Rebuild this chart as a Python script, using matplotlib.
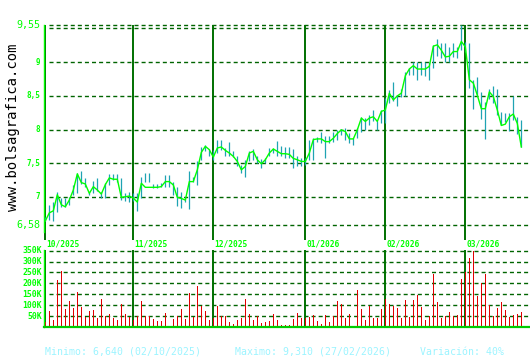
import matplotlib
matplotlib.use("Agg")
import matplotlib.pyplot as plt
import matplotlib.transforms as mtransforms

# ---------------- data ----------------
close = [6.64, 6.76, 6.79, 7.03, 6.88, 6.85, 6.95, 7.10, 7.34, 7.21,
         7.19, 7.05, 7.15, 7.10, 7.04, 7.18, 7.28, 7.26, 7.26, 6.99,
         7.00, 7.01, 6.98, 6.92, 7.20, 7.14, 7.14, 7.14, 7.14, 7.15,
         7.225, 7.225, 7.175, 6.99, 6.975, 6.95, 7.225, 7.225, 7.40, 7.66,
         7.75, 7.70, 7.59, 7.725, 7.74, 7.69, 7.65, 7.60, 7.525, 7.40,
         7.45, 7.65, 7.675, 7.55, 7.49, 7.55, 7.65, 7.71, 7.675, 7.64,
         7.64, 7.63, 7.57, 7.55, 7.525, 7.525, 7.65, 7.85, 7.86, 7.86,
         7.82, 7.82, 7.87, 7.94, 7.995, 7.97, 7.86, 7.86, 7.995, 8.17,
         8.12, 8.17, 8.19, 8.12, 8.27, 8.29, 8.54, 8.44, 8.50, 8.54,
         8.80, 8.90, 8.95, 8.90, 8.90, 8.90, 8.94, 9.24, 9.26, 9.18,
         9.08, 9.09, 9.16, 9.16, 9.31, 9.23, 8.74, 8.69, 8.51, 8.31,
         8.31, 8.56, 8.49, 8.29, 8.06, 8.08, 8.19, 8.23, 8.09, 7.74]

high = [6.70, 6.875, 6.925, 7.075, 6.975, 6.975, 7.0, 7.175, 7.35, 7.385,
        7.275, 7.075, 7.24, 7.275, 7.075, 7.21, 7.335, 7.34, 7.335, 7.285,
        7.05, 7.075, 7.05, 7.06, 7.29, 7.35, 7.36, 7.185, 7.185, 7.20,
        7.32, 7.325, 7.225, 7.15, 7.075, 7.0, 7.385, 7.30, 7.525, 7.735,
        7.775, 7.71, 7.70, 7.84, 7.85, 7.725, 7.81, 7.675, 7.61, 7.475,
        7.55, 7.675, 7.71, 7.60, 7.56, 7.575, 7.725, 7.725, 7.835, 7.75,
        7.74, 7.74, 7.71, 7.60, 7.575, 7.58, 7.85, 7.87, 7.89, 7.97,
        7.90, 7.90, 7.97, 7.995, 8.005, 8.02, 7.945, 7.87, 8.02, 8.19,
        8.17, 8.22, 8.29, 8.12, 8.29, 8.47, 8.59, 8.70, 8.51, 8.61,
        8.86, 8.91, 9.01, 9.01, 9.01, 9.01, 9.01, 9.25, 9.34, 9.28,
        9.29, 9.23, 9.28, 9.23, 9.55, 9.30, 9.28, 8.74, 8.78, 8.56,
        8.41, 8.60, 8.64, 8.61, 8.26, 8.24, 8.24, 8.50, 8.18, 8.14]

low = [6.64, 6.65, 6.64, 6.775, 6.85, 6.84, 6.875, 7.025, 7.05, 7.19,
       7.15, 7.025, 7.05, 7.09, 6.975, 6.975, 7.175, 7.25, 7.225, 6.95,
       6.94, 6.925, 6.93, 6.785, 6.975, 7.225, 7.225, 7.125, 7.125, 7.15,
       7.15, 7.15, 7.025, 6.86, 6.825, 6.925, 6.81, 7.225, 7.175, 7.55,
       7.675, 7.60, 7.55, 7.65, 7.70, 7.60, 7.60, 7.59, 7.45, 7.36,
       7.30, 7.525, 7.55, 7.50, 7.425, 7.50, 7.60, 7.65, 7.60, 7.60,
       7.57, 7.57, 7.43, 7.46, 7.45, 7.47, 7.55, 7.55, 7.82, 7.80,
       7.57, 7.80, 7.82, 7.85, 7.92, 7.85, 7.80, 7.77, 7.87, 7.97,
       7.995, 8.07, 8.12, 7.995, 8.09, 8.09, 8.39, 8.42, 8.35, 8.49,
       8.50, 8.81, 8.81, 8.74, 8.81, 8.79, 8.74, 8.91, 9.09, 9.06,
       9.01, 9.01, 9.08, 9.06, 9.18, 9.15, 8.62, 8.31, 8.51, 8.16,
       7.86, 8.46, 8.39, 8.21, 8.06, 8.11, 7.98, 8.14, 7.94, 7.74]

volume_k = [23, 74, 32, 217, 258, 83, 120, 88, 161, 92,
            46, 74, 78, 41, 129, 51, 60, 41, 32, 106,
            60, 46, 30, 51, 120, 51, 51, 37, 28, 28,
            64, 5, 37, 51, 83, 37, 157, 46, 189, 97,
            74, 32, 40, 97, 51, 51, 23, 14, 32, 41,
            129, 60, 32, 51, 18, 23, 28, 60, 32, 9,
            9, 9, 37, 64, 41, 40, 46, 55, 28, 14,
            55, 23, 51, 120, 106, 41, 60, 5, 170, 83,
            32, 97, 41, 41, 83, 128, 106, 97, 88, 41,
            124, 46, 124, 147, 92, 32, 51, 244, 115, 41,
            51, 69, 51, 55, 221, 250, 318, 350, 143, 203,
            244, 101, 51, 88, 115, 78, 46, 55, 60, 69]

month_start = [0, 22, 42, 65, 85, 105]
month_labels = ["10/2025", "11/2025", "12/2025", "01/2026", "02/2026", "03/2026"]

price_ticks = [9.555, 9.505, 9.0, 8.5, 8.0, 7.5, 7.0, 6.58]
price_labels = {9.555: "9,55", 9.0: "9", 8.5: "8,5", 8.0: "8", 7.5: "7,5", 7.0: "7", 6.58: "6,58"}
vol_ticks = [50, 100, 150, 200, 250, 300, 350]
vol_labels = ["50K", "100K", "150K", "200K", "250K", "300K", "350K"]

footer = ["Minimo: 6,640 (02/10/2025)", "Maximo: 9,310 (27/02/2026)", "Variación: 40%"]
watermark = "www.bolsagrafica.com"

# ---------------- style ----------------
W, H = 530, 360
LIME = "#00ff00"
DARK = "#007000"
GRID = "#006400"
TEAL = "#1fa3b3"
RED = "#e00000"
MONO = "DejaVu Sans Mono"

fig = plt.figure(figsize=(W / 100, H / 100), dpi=100)
fig.patch.set_facecolor("white")

n = len(close)
idx = list(range(n))
xl = (-0.33, 121.17)

# price axes
ax = fig.add_axes([44 / W, 1 - 240 / H, 486 / W, 215 / H])
ax.set_xlim(*xl)
ax.set_ylim(6.356, 9.555)
ax.set_facecolor("white")
for s in ax.spines.values():
    s.set_visible(False)
ax.set_xticks([])
ax.set_yticks([])

for t in price_ticks:
    ax.plot([1.0, xl[1]], [t, t], color=GRID, lw=1.0, ls=(0, (2.9, 2.2)), zorder=1,
            clip_on=False)
for m in month_start:
    ax.axvline(m, color=DARK, lw=1.4, zorder=2)
ax.plot([-0.25, -0.25], [6.47, 9.555], color=LIME, lw=1.0, zorder=3, clip_on=False)

ax.vlines(idx, low, high, color=TEAL, lw=0.9, zorder=4)
ax.plot(idx, close, color=LIME, lw=1.0, zorder=5)

trans_lbl = mtransforms.blended_transform_factory(ax.transAxes, ax.transData)
for t, lab in price_labels.items():
    big = lab in ("9,55", "6,58")
    ax.text(-4.0 / 486, t, lab, transform=trans_lbl, ha="right", va="center",
            color=LIME, fontsize=7.2 if big else 5.5, family=MONO,
            fontweight="normal" if big else "bold")

trans_m = mtransforms.blended_transform_factory(ax.transData, ax.transAxes)
for m, lab in zip(month_start, month_labels):
    ax.text(m + 0.2, -4.0 / 215, lab, transform=trans_m, ha="left", va="center",
            color=LIME, fontsize=5.7, family=MONO, fontweight="bold", clip_on=False)

# volume axes
av = fig.add_axes([44 / W, 1 - 327 / H, 486 / W, 77 / H])
av.set_xlim(*xl)
av.set_ylim(0, 353)
av.set_facecolor("white")
for s in av.spines.values():
    s.set_visible(False)
av.set_xticks([])
av.set_yticks([])

for t in vol_ticks:
    av.plot([1.0, xl[1]], [t, t], color=GRID, lw=1.0, ls=(0, (2.9, 2.2)), zorder=1,
            clip_on=False)
for m in month_start:
    av.axvline(m, color=DARK, lw=1.4, zorder=2)
av.vlines(idx, 0, volume_k, color=RED, lw=0.5, zorder=3, antialiased=False)
av.plot([-0.3, -0.3], [0, 353], color=LIME, lw=1.0, zorder=4, clip_on=False)
av.plot([xl[0], xl[1]], [0, 0], color="#00cc00", lw=1.6, zorder=5, clip_on=False)

trans_v = mtransforms.blended_transform_factory(av.transAxes, av.transData)
for t, lab in zip(vol_ticks, vol_labels):
    av.text(-2.0 / 486, t, lab, transform=trans_v, ha="right", va="center",
            color=LIME, fontsize=5.9, family=MONO, fontweight="bold")

# watermark
fig.text(13 / W, 1 - 127 / H, watermark, rotation=90, ha="center",
         va="center", fontsize=10, family=MONO, color="black", fontweight="light")

# footer
for xpos, txt in zip([45, 235, 420], footer):
    fig.text(xpos / W, 1 - 352 / H, txt, ha="left", va="center", fontsize=7.1,
             family=MONO, color="#9cf4ff")

fig.savefig("out.png", dpi=100, facecolor="white")
